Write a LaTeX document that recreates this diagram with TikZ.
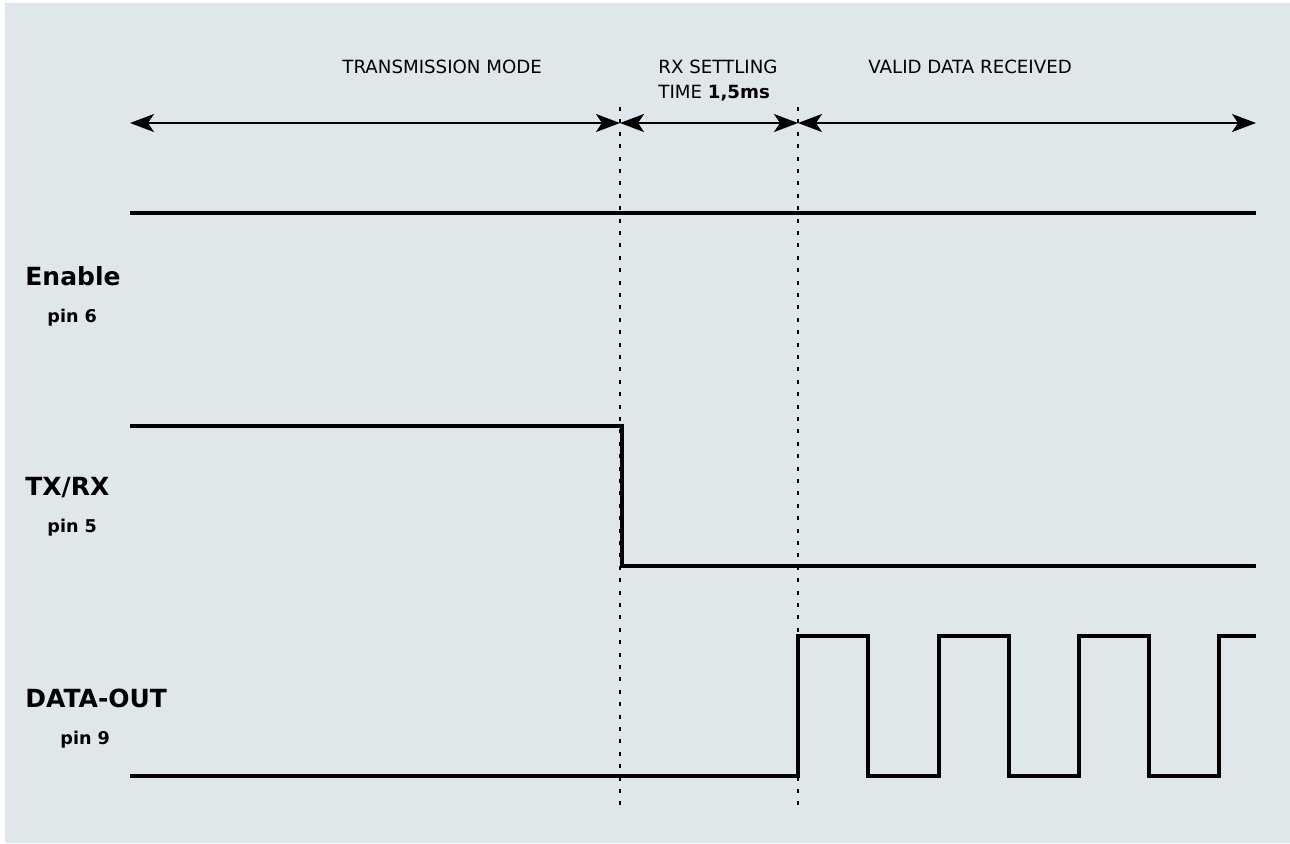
\documentclass[tikz,border=0pt]{standalone}
\usepackage{fontspec}
\setmainfont{DejaVu Sans}
\usetikzlibrary{arrows.meta}
\definecolor{panel}{HTML}{E0E7EA}

\begin{document}
\begin{tikzpicture}[x=.5pt,y=-.5pt,
	sig/.style={line width=2.3pt,line join=miter},
	span/.style={line width=1pt,{Stealth[length=12pt,width=9pt,inset=3pt]}-{Stealth[length=12pt,width=9pt,inset=3pt]}},
	guide/.style={line width=.9pt,dash pattern=on 2pt off 4.2pt},
	phase/.style={font=\fontsize{9.1}{11}\selectfont,anchor=base west,inner sep=0pt},
	signame/.style={font=\bfseries\fontsize{12.5}{15}\selectfont,anchor=base west,inner sep=0pt},
	pinlbl/.style={font=\bfseries\fontsize{8.8}{11}\selectfont,anchor=base west,inner sep=0pt}]
	\useasboundingbox (0,0) rectangle (1290,843);
	\fill[panel] (5,3) rectangle (1290,843);
	\path
	(130,123) coordinate (L)
	(620,123) coordinate (T1)
	(798,123) coordinate (T2)
	(1256,123) coordinate (R)
	(620,107) coordinate (G1a)
	(620,808) coordinate (G1b)
	(798,107) coordinate (G2a)
	(798,808) coordinate (G2b);
	% phases
	\draw[span] (L)--(T1);
	\draw[span] (T1)--(T2);
	\draw[span] (T2)--(R);
	\draw[guide] (G1a)--(G1b) (G2a)--(G2b);
	\node[phase] (tx) at (342,73) {TRANSMISSION MODE};
	\node[phase] (rx) at (658,73) {RX SETTLING};
	\node[phase] (rxt) at (658,98) {TIME \textbf{1,5ms}};
	\node[phase] (valid) at (868,73) {VALID DATA RECEIVED};
	% signal names
	\foreach \n/\t/\y/\p/\px in {en/Enable/285/6/47,txrx/TX\slash RX/495/5/47,dout/DATA-OUT/707/9/60}{
		\node[signame] (\n) at (25,\y) {\t};
		\node[pinlbl] (\n pin) at (\px,\y+37) {pin \p};
	}
	% traces
	\draw[sig] (130,213)--(1256,213);
	\draw[sig] (130,426)--(622,426)--(622,566)--(1256,566);
	\draw[sig] (130,776)--(798,776)
		\foreach \x in {798,939,1079}{ -- (\x,776) -- (\x,636) -- (\x+70,636) -- (\x+70,776)}
		-- (1219,776)--(1219,636)--(1256,636);
\end{tikzpicture}
\end{document}
